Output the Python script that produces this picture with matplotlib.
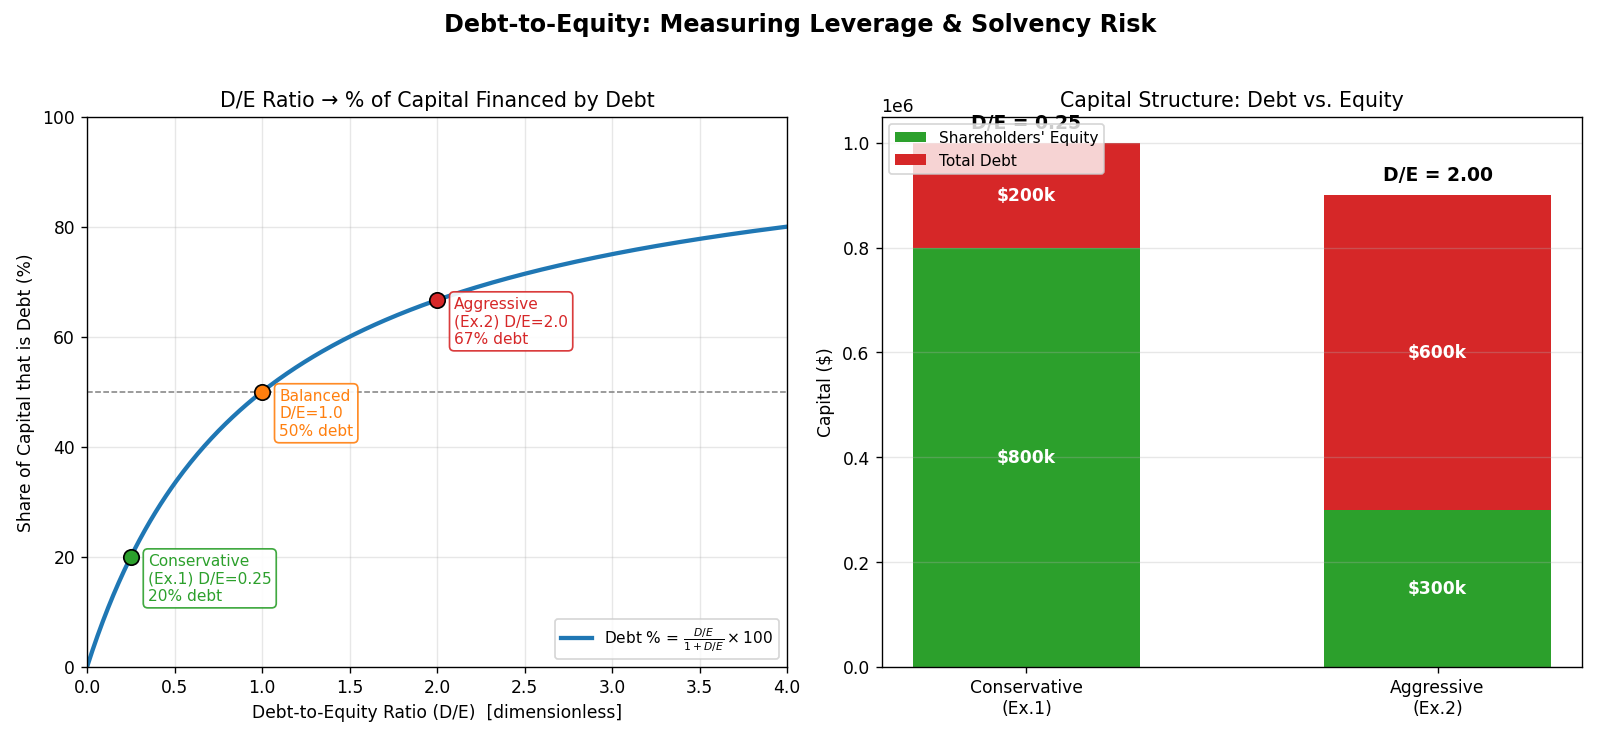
import numpy as np
from matplotlib import pyplot as plt

# curve data (D/E -> share of capital that is debt)
de_curve = np.linspace(0, 4, 400)
debt_share = de_curve / (1 + de_curve) * 100

# highlighted examples
point_de = [0.25, 1.0, 2.0]
point_pct = [20, 50, 66.7]
point_colors = ['#2ca02c', '#ff7f0e', '#d62728']
point_texts = ['Conservative\n(Ex.1) D/E=0.25\n20% debt',
               'Balanced\nD/E=1.0\n50% debt',
               'Aggressive\n(Ex.2) D/E=2.0\n67% debt']

# capital structure
companies = ['Conservative\n(Ex.1)', 'Aggressive\n(Ex.2)']
equity = [800000, 300000]
debt = [200000, 600000]
equity_labels = ['$800k', '$300k']
debt_labels = ['$200k', '$600k']
de_labels = ['D/E = 0.25', 'D/E = 2.00']

fig = plt.figure(figsize=(13, 6), dpi=1600 / 13)
ax1 = fig.add_axes([0.0544, 0.0962, 0.4375, 0.7453])
ax2 = fig.add_axes([0.551, 0.0962, 0.438, 0.7453])

fig.suptitle('Debt-to-Equity: Measuring Leverage & Solvency Risk',
             fontsize=14, fontweight='bold', y=0.982)

# left panel
ax1.plot(de_curve, debt_share, color='#1f77b4', lw=2.5,
         label=r'Debt % = $\frac{D/E}{1+D/E}\times 100$')
ax1.axhline(50, color='gray', ls='--', lw=0.9)
for x, y, c, t in zip(point_de, point_pct, point_colors, point_texts):
    ax1.plot(x, y, 'o', ms=9, color=c, mec='black', mew=1, zorder=5)
    ax1.annotate(t, (x, y), xytext=(10, 2), textcoords='offset points',
                 ha='left', va='top', fontsize=9, color=c,
                 bbox=dict(boxstyle='round,pad=0.3', fc='white', ec=c, alpha=0.9))
ax1.set_xlim(0, 4)
ax1.set_ylim(0, 100)
ax1.set_xlabel('Debt-to-Equity Ratio (D/E)  [dimensionless]', fontsize=10)
ax1.set_ylabel('Share of Capital that is Debt (%)', fontsize=10)
ax1.set_title('D/E Ratio → % of Capital Financed by Debt', fontsize=12)
ax1.grid(alpha=0.3)
ax1.legend(loc='lower right', fontsize=9)

# right panel
x = np.arange(len(companies))
ax2.bar(x, equity, 0.55, color='#2ca02c', label="Shareholders' Equity")
ax2.bar(x, debt, 0.55, bottom=equity, color='#d62728', label='Total Debt')
for i in range(len(companies)):
    ax2.text(x[i], equity[i] / 2, equity_labels[i], ha='center', va='center',
             color='white', fontweight='bold', fontsize=10)
    ax2.text(x[i], equity[i] + debt[i] / 2, debt_labels[i], ha='center', va='center',
             color='white', fontweight='bold', fontsize=10)
    ax2.text(x[i], equity[i] + debt[i] + 20000, de_labels[i], ha='center', va='bottom',
             fontweight='bold', fontsize=11)
ax2.set_xticks(x)
ax2.set_xticklabels(companies, fontsize=10)
ax2.set_ylabel('Capital ($)', fontsize=10)
ax2.set_title('Capital Structure: Debt vs. Equity', fontsize=12)
ax2.grid(axis='y', alpha=0.3)
ax2.legend(loc='upper left', fontsize=9)

fig.savefig('out.png', dpi=1600 / 13)
